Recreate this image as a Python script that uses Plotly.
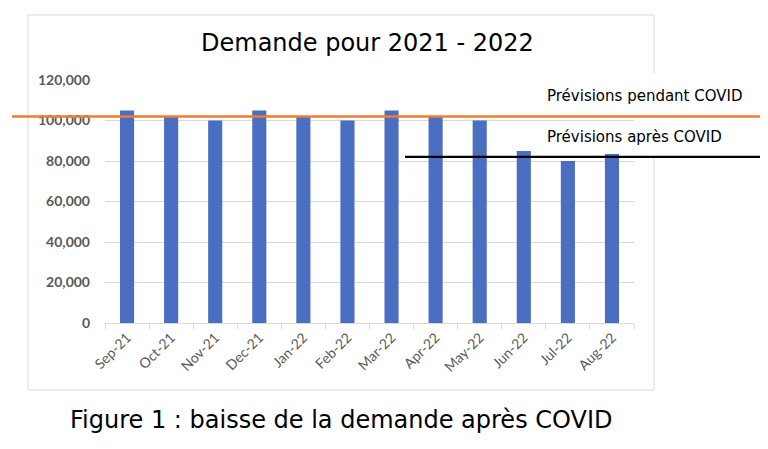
import plotly.graph_objects as go

months = ["Sep-21", "Oct-21", "Nov-21", "Dec-21", "Jan-22", "Feb-22",
          "Mar-22", "Apr-22", "May-22", "Jun-22", "Jul-22", "Aug-22"]
demand = [105000, 102000, 100000, 105000, 102000, 100000,
          105000, 102000, 100000, 85000, 80000, 83500]
forecast_during = 102000
forecast_after = 82000
y_ticks = [0, 20000, 40000, 60000, 80000, 100000, 120000]

fig = go.Figure()
fig.add_trace(go.Bar(x=months, y=demand, marker_color="#4A6FC2",
                     marker_line_width=0, showlegend=False))

OFF = 8  # page body margin
W, H = 768 - OFF, 449 - OFF
L, R, T, B = 105 - OFF, 634 - OFF, 80 - OFF, 323 - OFF
def px_x(p):
    return (p - OFF - L) / (R - L)
def px_y(p):
    return (B - (p - OFF)) / (B - T)

shapes = [
    dict(type="rect", xref="paper", yref="paper", x0=px_x(28), x1=px_x(654),
         y0=px_y(390), y1=px_y(15), line=dict(color="#d9d9d9", width=1),
         fillcolor="rgba(0,0,0,0)", layer="below"),
    dict(type="rect", xref="paper", yref="paper", x0=px_x(640), x1=px_x(765),
         y0=px_y(157), y1=px_y(73), line=dict(width=0), fillcolor="white",
         layer="above"),
    dict(type="line", xref="paper", yref="y", x0=px_x(12), x1=px_x(760),
         y0=forecast_during, y1=forecast_during,
         line=dict(color="#ED7D31", width=2.5), layer="above"),
    dict(type="line", xref="paper", yref="y", x0=px_x(405), x1=px_x(760),
         y0=forecast_after, y1=forecast_after,
         line=dict(color="black", width=2.2), layer="above"),
]

annotations = [
    dict(text="Prévisions pendant COVID", xref="paper", yref="paper",
         x=px_x(545), y=px_y(96), xanchor="left", yanchor="middle",
         showarrow=False, font=dict(family="DejaVu Sans", size=15, color="black")),
    dict(text="Prévisions après COVID", xref="paper", yref="paper",
         x=px_x(545), y=px_y(137), xanchor="left", yanchor="middle",
         showarrow=False, font=dict(family="DejaVu Sans", size=15, color="black")),
    dict(text="Figure 1 : baisse de la demande après COVID", xref="paper", yref="paper",
         x=px_x(341), y=px_y(420), xanchor="center", yanchor="middle",
         showarrow=False, font=dict(family="DejaVu Sans", size=24, color="black")),
    dict(text="Demande pour 2021 - 2022", xref="paper", yref="paper",
         x=px_x(367), y=px_y(43), xanchor="center", yanchor="middle",
         showarrow=False, font=dict(family="DejaVu Sans", size=24, color="black")),
]

fig.update_layout(
    width=W, height=H,
    margin=dict(l=L, r=W - R, t=T, b=H - B, pad=0, autoexpand=False),
    paper_bgcolor="white", plot_bgcolor="white",
    bargap=0.68,
    shapes=shapes, annotations=annotations,
    xaxis=dict(showline=True, linecolor="#d9d9d9", linewidth=1,
               ticks="outside", tickson="boundaries", ticklen=5, tickcolor="#d9d9d9",
               tickangle=-45, tickfont=dict(family="Lato", size=14, color="#595959"),
               showgrid=False, automargin=False),
    yaxis=dict(range=[0, 120000], tickvals=y_ticks, tickformat=",",
               showgrid=True, gridcolor="#d9d9d9", gridwidth=1, zeroline=False,
               showline=False, ticks="", ticklabelstandoff=14, automargin=False,
               tickfont=dict(family="Lato", size=14, color="#595959", weight="bold")),
)

fig.write_html("out.html")
